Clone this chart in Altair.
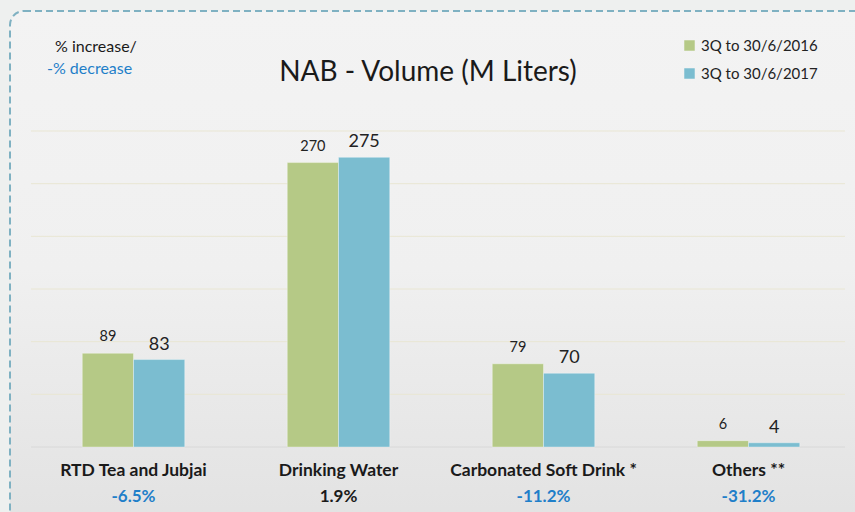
import altair as alt
import pandas as pd

categories = ["RTD Tea and Jubjai", "Drinking Water", "Carbonated Soft Drink *", "Others **"]
vol_2016 = [89, 270, 79, 6]
vol_2017 = [83, 275, 70, 4]
change_pct = [-6.5, 1.9, -11.2, -31.2]
series = ["3Q to 30/6/2016", "3Q to 30/6/2017"]
colors = ["#b5c986", "#7bbdd0"]
grid_values = [0, 50, 100, 150, 200, 250, 300]

rows = []
for c, a, b in zip(categories, vol_2016, vol_2017):
    rows.append({"cat": c, "series": series[0], "value": a})
    rows.append({"cat": c, "series": series[1], "value": b})
bars_df = pd.DataFrame(rows)
cat_df = pd.DataFrame({"cat": categories, "change": change_pct,
                       "label": [f"{v:.1f}%" for v in change_pct]})
grid_df = pd.DataFrame({"g": grid_values})

FONT = "Lato"
W, H = 820, 316

xscale = alt.Scale(domain=categories, paddingInner=0.5, paddingOuter=0.25)
yscale = alt.Scale(domain=[0, 300], nice=False)

frame = alt.Chart(pd.DataFrame({"a": [0]})).mark_rect(
    cornerRadius=14,
    stroke="#7fb1c2", strokeWidth=2, strokeDash=[7, 4],
    fill=alt.Gradient(gradient="linear", x1=0, y1=0, x2=0, y2=1,
                      stops=[alt.GradientStop(color="#f3f3f3", offset=0),
                             alt.GradientStop(color="#f0f0f0", offset=0.5),
                             alt.GradientStop(color="#e2e2e2", offset=1)]),
    clip=False,
).encode(x=alt.value(-21), x2=alt.value(W + 20), y=alt.value(-120), y2=alt.value(H + 80))

grid = alt.Chart(grid_df).mark_rule(strokeWidth=1).encode(
    y=alt.Y("g:Q", scale=yscale),
    x=alt.value(0), x2=alt.value(W - 6),
    color=alt.condition("datum.g == 0", alt.value("#d8d8d8"), alt.value("#e9e6d3")),
)

base = alt.Chart(bars_df)

bars = base.mark_bar(stroke="#ffffff", strokeOpacity=0.35, strokeWidth=1).encode(
    x=alt.X("cat:N", scale=xscale, sort=categories,
            axis=alt.Axis(title=None, labels=False, ticks=False, domain=False)),
    xOffset=alt.XOffset("series:N", sort=series),
    y=alt.Y("value:Q", scale=yscale,
            axis=alt.Axis(title=None, labels=False, ticks=False, domain=False, grid=False)),
    color=alt.Color("series:N", sort=series,
                    scale=alt.Scale(domain=series, range=colors),
                    legend=alt.Legend(title=None, orient="none", legendX=651, legendY=-93,
                                      symbolType="square", symbolSize=110,
                                      symbolStrokeWidth=0,
                                      labelFont=FONT, labelFontSize=15,
                                      labelColor="#222222", rowPadding=12,
                                      labelOffset=4)),
)

lab16 = alt.Chart(bars_df[bars_df.series == series[0]]).mark_text(
    font=FONT, fontSize=14.5, baseline="bottom", dy=-9, color="#222222",
).encode(
    x=alt.X("cat:N", scale=xscale, sort=categories),
    xOffset=alt.XOffset("series:N", sort=series, scale=alt.Scale(domain=series)),
    y=alt.Y("value:Q", scale=yscale),
    text="value:Q",
)
lab17 = alt.Chart(bars_df[bars_df.series == series[1]]).mark_text(
    font=FONT, fontSize=18, baseline="bottom", dy=-6, color="#222222",
).encode(
    x=alt.X("cat:N", scale=xscale, sort=categories),
    xOffset=alt.XOffset("series:N", sort=series, scale=alt.Scale(domain=series)),
    y=alt.Y("value:Q", scale=yscale),
    text="value:Q",
)

cat_labels = alt.Chart(cat_df).mark_text(
    font=FONT, fontSize=17.5, fontWeight="bold", color="#1a1a1a", baseline="middle",
).encode(
    x=alt.X("cat:N", scale=xscale, sort=categories),
    y=alt.value(H + 24),
    text="cat:N",
)
pct_labels = alt.Chart(cat_df).mark_text(
    font=FONT, fontSize=17, fontWeight="bold", baseline="middle",
).encode(
    x=alt.X("cat:N", scale=xscale, sort=categories),
    y=alt.value(H + 50),
    text="label:N",
    color=alt.condition("datum.change < 0", alt.value("#1f7fc9"), alt.value("#1a1a1a")),
)

title = alt.Chart(pd.DataFrame({"t": ["NAB - Volume (M Liters)"]})).mark_text(
    font=FONT, fontSize=28, color="#1a1a1a", baseline="middle",
).encode(x=alt.value(397), y=alt.value(-58), text="t:N")

note1 = alt.Chart(pd.DataFrame({"t": ["% increase/"]})).mark_text(
    font=FONT, fontSize=16, color="#1a1a1a", baseline="middle", align="left",
).encode(x=alt.value(24), y=alt.value(-84), text="t:N")
note2 = alt.Chart(pd.DataFrame({"t": ["-% decrease"]})).mark_text(
    font=FONT, fontSize=16, color="#1f7fc9", baseline="middle", align="left",
).encode(x=alt.value(16), y=alt.value(-62), text="t:N")

chart = alt.layer(frame, grid, bars, lab16, lab17, cat_labels, pct_labels, title, note1, note2).properties(
    width=W, height=H,
    padding={"left": 31, "top": 131, "right": 4, "bottom": 65},
    autosize=alt.AutoSizeParams(type="none"),
    background="#eef0ef",
).configure_view(stroke=None)

chart.save("out.html", embed_options={"renderer": "svg", "actions": False})
